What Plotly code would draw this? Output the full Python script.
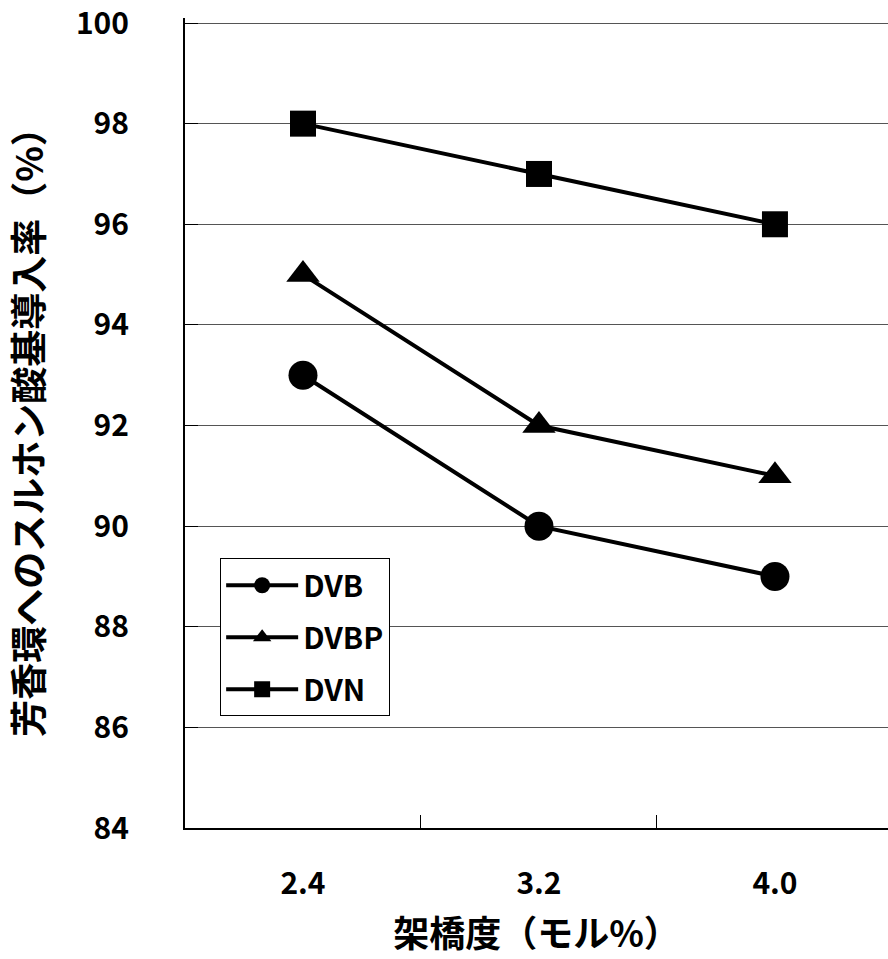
import plotly.graph_objects as go

categories = ["2.4", "3.2", "4.0"]
dvb = [93, 90, 89]
dvbp = [95, 92, 91]
dvn = [98, 97, 96]
series_names = ["DVB", "DVBP", "DVN"]
y_ticks = [84, 86, 88, 90, 92, 94, 96, 98, 100]

FONT = "Noto Sans CJK JP"
symbols = ["circle", "triangle-up", "square"]
sizes = [29, 29, 26]

fig = go.Figure()
for name, vals, sym, sz in zip(series_names, [dvb, dvbp, dvn], symbols, sizes):
    fig.add_trace(go.Scatter(
        x=categories, y=vals, name=name, mode="lines+markers",
        legendgroup=name,
        line=dict(color="black", width=4),
        marker=dict(symbol=sym, size=sz, color="black"),
    ))

fig.update_layout(
    width=888, height=959,
    margin=dict(l=185, r=0, t=18, b=131),
    paper_bgcolor="white", plot_bgcolor="white",
    font=dict(family=FONT, color="black", weight="bold"),
    showlegend=True,
    legend=dict(
        x=0.05, y=0.333, xanchor="left", yanchor="top",
        bgcolor="white", bordercolor="black", borderwidth=1,
        font=dict(family=FONT, size=30, color="black", weight="bold"),
        itemwidth=72, tracegroupgap=10,
    ),
)
fig.update_xaxes(
    type="category", range=[-0.5, 2.479],
    showline=True, linecolor="black", linewidth=2,
    ticks="inside", tickson="boundaries", ticklen=13, tickcolor="black", tickwidth=1,
    showgrid=False, ticklabelstandoff=28,
    tickfont=dict(family=FONT, size=30, color="black", weight="bold"),
    title=dict(text="架橋度（モル%）", standoff=20,
               font=dict(family=FONT, size=36, color="black", weight="bold")),
)
fig.update_yaxes(
    range=[84, 100.1], tickvals=y_ticks,
    showline=True, linecolor="black", linewidth=2,
    ticks="inside", ticklen=13, tickcolor="black", tickwidth=1,
    showgrid=True, gridcolor="#555", gridwidth=1,
    ticklabelstandoff=48, ticklabeloverflow="allow",
    tickfont=dict(family=FONT, size=30, color="black", weight="bold"),
    title=dict(text="芳香環へのスルホン酸基導入率（%）", standoff=36,
               font=dict(family=FONT, size=37, color="black", weight="bold")),
)

fig.write_html("out.html")
